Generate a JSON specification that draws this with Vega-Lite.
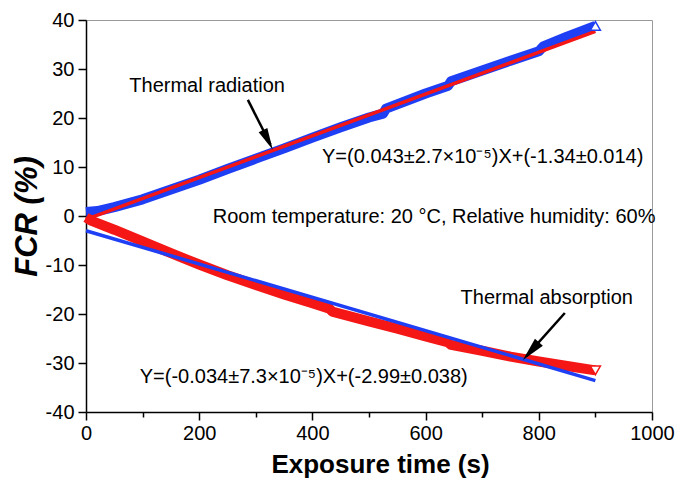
{
  "$schema": "https://vega.github.io/schema/vega-lite/v6.json",
  "width": 566,
  "height": 392,
  "autosize": {"type": "none"},
  "padding": {"left": 86, "top": 20, "right": 38, "bottom": 78},
  "background": "white",
  "config": {
    "view": {"stroke": "#9a9a9a", "strokeWidth": 1},
    "font": "Liberation Sans",
    "axis": {
      "grid": false,
      "domainColor": "black",
      "tickColor": "black",
      "domainWidth": 1.5,
      "tickWidth": 1.5,
      "labelFont": "Liberation Sans",
      "labelFontSize": 20,
      "labelColor": "black",
      "titleFont": "Liberation Sans",
      "titleColor": "black",
      "titleFontWeight": "bold"
    }
  },
  "datasets": {
    "curves": [
      {"s": "rad", "x": 0, "y": 0.8}, {"s": "rad", "x": 20, "y": 1.0}, {"s": "rad", "x": 50, "y": 1.8},
      {"s": "rad", "x": 100, "y": 3.4}, {"s": "rad", "x": 150, "y": 5.4}, {"s": "rad", "x": 200, "y": 7.4},
      {"s": "rad", "x": 250, "y": 9.6}, {"s": "rad", "x": 300, "y": 11.7}, {"s": "rad", "x": 350, "y": 13.8},
      {"s": "rad", "x": 400, "y": 16.0}, {"s": "rad", "x": 450, "y": 18.1}, {"s": "rad", "x": 500, "y": 20.1},
      {"s": "rad", "x": 525, "y": 20.9}, {"s": "rad", "x": 530, "y": 21.9}, {"s": "rad", "x": 600, "y": 25.0},
      {"s": "rad", "x": 640, "y": 26.6}, {"s": "rad", "x": 645, "y": 27.5}, {"s": "rad", "x": 700, "y": 29.7},
      {"s": "rad", "x": 750, "y": 31.7}, {"s": "rad", "x": 800, "y": 33.6}, {"s": "rad", "x": 808, "y": 34.6},
      {"s": "rad", "x": 850, "y": 36.6}, {"s": "rad", "x": 900, "y": 38.8},
      {"s": "abs", "x": 0, "y": -0.3}, {"s": "abs", "x": 10, "y": -1.0}, {"s": "abs", "x": 50, "y": -2.8},
      {"s": "abs", "x": 100, "y": -5.2}, {"s": "abs", "x": 150, "y": -7.6}, {"s": "abs", "x": 200, "y": -9.9},
      {"s": "abs", "x": 250, "y": -12.1}, {"s": "abs", "x": 300, "y": -14.1}, {"s": "abs", "x": 350, "y": -16.0},
      {"s": "abs", "x": 400, "y": -17.8}, {"s": "abs", "x": 430, "y": -18.9}, {"s": "abs", "x": 435, "y": -19.5},
      {"s": "abs", "x": 500, "y": -21.5}, {"s": "abs", "x": 550, "y": -23.0}, {"s": "abs", "x": 600, "y": -24.6},
      {"s": "abs", "x": 640, "y": -25.8}, {"s": "abs", "x": 645, "y": -26.3}, {"s": "abs", "x": 700, "y": -27.5},
      {"s": "abs", "x": 750, "y": -28.7}, {"s": "abs", "x": 800, "y": -29.7}, {"s": "abs", "x": 850, "y": -30.6},
      {"s": "abs", "x": 900, "y": -31.5},
      {"s": "radfit", "x": 0, "y": -0.7}, {"s": "radfit", "x": 900, "y": 37.7},
      {"s": "absfit", "x": 0, "y": -3.0}, {"s": "absfit", "x": 900, "y": -33.6}
    ]
  },
  "data": {"name": "curves"},
  "layer": [
    {
      "transform": [{"filter": "datum.s === 'rad'"}],
      "mark": {"type": "line", "color": "#1f3ff5", "strokeWidth": 10, "strokeJoin": "round"},
      "encoding": {
        "x": {
          "field": "x", "type": "quantitative",
          "scale": {"domain": [0, 1000], "nice": false},
          "axis": {
            "title": "Exposure time (s)",
            "titleFontSize": 26,
            "titlePadding": 8,
            "titleX": 294,
            "values": [0, 100, 200, 300, 400, 500, 600, 700, 800, 900, 1000],
            "labelExpr": "datum.value % 200 === 0 ? '' + datum.value : ''",
            "tickSize": {"condition": {"test": "datum.value % 200 === 0", "value": 8}, "value": 5},
            "labelPadding": 3,
            "labelFlush": false
          }
        },
        "y": {
          "field": "y", "type": "quantitative",
          "scale": {"domain": [-40, 40], "nice": false},
          "axis": {
            "title": "FCR (%)",
            "titleFontSize": 31,
            "titleFontStyle": "italic",
            "titlePadding": 2,
            "values": [-40, -35, -30, -25, -20, -15, -10, -5, 0, 5, 10, 15, 20, 25, 30, 35, 40],
            "labelExpr": "datum.value % 10 === 0 ? '' + datum.value : ''",
            "tickSize": {"condition": {"test": "datum.value % 10 === 0", "value": 8}, "value": 5},
            "labelPadding": 4,
            "labelFlush": false
          }
        }
      }
    },
    {
      "transform": [{"filter": "datum.s === 'abs'"}],
      "mark": {"type": "line", "color": "#f51616", "strokeWidth": 10, "strokeJoin": "round"},
      "encoding": {"x": {"field": "x", "type": "quantitative"}, "y": {"field": "y", "type": "quantitative"}}
    },
    {
      "transform": [{"filter": "datum.s === 'radfit'"}],
      "mark": {"type": "line", "color": "#f51616", "strokeWidth": 3.5},
      "encoding": {"x": {"field": "x", "type": "quantitative"}, "y": {"field": "y", "type": "quantitative"}}
    },
    {
      "transform": [{"filter": "datum.s === 'absfit'"}],
      "mark": {"type": "line", "color": "#1f3ff5", "strokeWidth": 3.5},
      "encoding": {"x": {"field": "x", "type": "quantitative"}, "y": {"field": "y", "type": "quantitative"}}
    },
    {
      "transform": [{"filter": "datum.s === 'rad' && datum.x === 900"}],
      "mark": {"type": "point", "shape": "triangle-up", "size": 100, "filled": true, "fill": "white", "stroke": "#1f3ff5", "strokeWidth": 1.5, "opacity": 1},
      "encoding": {"x": {"field": "x", "type": "quantitative"}, "y": {"field": "y", "type": "quantitative"}}
    },
    {
      "transform": [{"filter": "datum.s === 'abs' && datum.x === 900"}],
      "mark": {"type": "point", "shape": "triangle-down", "size": 100, "filled": true, "fill": "white", "stroke": "#f51616", "strokeWidth": 1.5, "opacity": 1},
      "encoding": {"x": {"field": "x", "type": "quantitative"}, "y": {"field": "y", "type": "quantitative"}}
    },
    {
      "data": {"values": [{}]},
      "mark": {"type": "rule", "color": "black", "strokeWidth": 2.5},
      "encoding": {
        "x": {"datum": 286, "type": "quantitative"}, "y": {"datum": 23.7, "type": "quantitative"},
        "x2": {"datum": 326}, "y2": {"datum": 14.6}
      }
    },
    {
      "data": {"values": [{}]},
      "mark": {"type": "point", "shape": "M0,0L-0.22,1L0.22,1Z", "size": 1936, "filled": true, "color": "black", "opacity": 1, "angle": 153.6},
      "encoding": {"x": {"datum": 330, "type": "quantitative"}, "y": {"datum": 13.5, "type": "quantitative"}}
    },
    {
      "data": {"values": [{}]},
      "mark": {"type": "rule", "color": "black", "strokeWidth": 2.5},
      "encoding": {
        "x": {"datum": 846, "type": "quantitative"}, "y": {"datum": -19.8, "type": "quantitative"},
        "x2": {"datum": 778}, "y2": {"datum": -28.6}
      }
    },
    {
      "data": {"values": [{}]},
      "mark": {"type": "point", "shape": "M0,0L-0.22,1L0.22,1Z", "size": 2300, "filled": true, "color": "black", "opacity": 1, "angle": 221.7},
      "encoding": {"x": {"datum": 772, "type": "quantitative"}, "y": {"datum": -29.4, "type": "quantitative"}}
    },
    {
      "data": {"values": [{}]},
      "mark": {"type": "text", "align": "center", "baseline": "middle", "fontSize": 20, "font": "Liberation Sans", "color": "black"},
      "encoding": {"x": {"datum": 214, "type": "quantitative"}, "y": {"datum": 26.5, "type": "quantitative"}, "text": {"value": "Thermal radiation"}}
    },
    {
      "data": {"values": [{}]},
      "mark": {"type": "text", "align": "left", "baseline": "middle", "fontSize": 20, "font": "Liberation Sans", "color": "black"},
      "encoding": {"x": {"datum": 417, "type": "quantitative"}, "y": {"datum": 12.0, "type": "quantitative"}, "text": {"value": "Y=(0.043±2.7×10⁻⁵)X+(-1.34±0.014)"}}
    },
    {
      "data": {"values": [{}]},
      "mark": {"type": "text", "align": "left", "baseline": "middle", "fontSize": 20, "font": "Liberation Sans", "color": "black"},
      "encoding": {"x": {"datum": 224, "type": "quantitative"}, "y": {"datum": -0.3, "type": "quantitative"}, "text": {"value": "Room temperature: 20 °C, Relative humidity: 60%"}}
    },
    {
      "data": {"values": [{}]},
      "mark": {"type": "text", "align": "center", "baseline": "middle", "fontSize": 20, "font": "Liberation Sans", "color": "black"},
      "encoding": {"x": {"datum": 814, "type": "quantitative"}, "y": {"datum": -16.7, "type": "quantitative"}, "text": {"value": "Thermal absorption"}}
    },
    {
      "data": {"values": [{}]},
      "mark": {"type": "text", "align": "left", "baseline": "middle", "fontSize": 20, "font": "Liberation Sans", "color": "black"},
      "encoding": {"x": {"datum": 95, "type": "quantitative"}, "y": {"datum": -32.9, "type": "quantitative"}, "text": {"value": "Y=(-0.034±7.3×10⁻⁵)X+(-2.99±0.038)"}}
    }
  ]
}
